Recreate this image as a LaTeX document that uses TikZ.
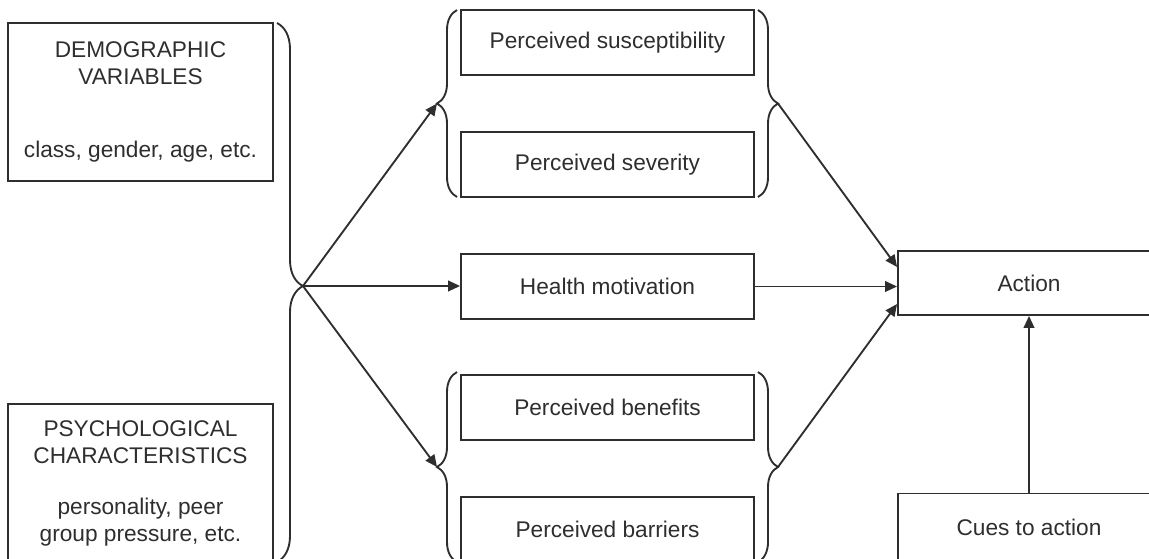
\documentclass[tikz,border=0pt]{standalone}
\usepackage{fontspec}
\setmainfont{Liberation Sans}
\usetikzlibrary{arrows.meta,decorations.pathreplacing,calc}
\begin{document}
\begin{tikzpicture}[x=0.75pt, y=-0.75pt, line width=1.4pt, color=black!82]
        \tikzstyle{box}=[draw, inner sep=0pt, align=center, font=\fontsize{17}{20.25}\selectfont]
        \tikzstyle{side}=[box, minimum width=198.75pt, minimum height=118.5pt]
        \tikzstyle{belief}=[box, minimum width=219.75pt, minimum height=48.75pt]
        \tikzstyle{outcome}=[box, minimum width=196.5pt, minimum height=48pt]
        \tikzstyle{curly}=[decorate, decoration={brace, amplitude=15pt}]
        \tikzstyle{arr}=[-{Triangle[length=9pt, width=8pt]}]
        \useasboundingbox (0,0) rectangle (1149,558);
        \clip (0,0) rectangle (1149,558);
        % Left boxes
        \node[side] (demo) at (140.5,102) {DEMOGRAPHIC\\VARIABLES\\[35pt]class, gender, age, etc.};
        \node[side] (psych) at (140.5,483) {PSYCHOLOGICAL\\CHARACTERISTICS\\[18pt]personality, peer\\group pressure, etc.};
        % Middle boxes
        \node[belief] (susc) at (607.5,42.5) {Perceived susceptibility};
        \node[belief] (sever) at (607.5,164.5) {Perceived severity};
        \node[belief] (motiv) at (607.5,286.5) {Health motivation};
        \node[belief] (benef) at (607.5,407.5) {Perceived benefits};
        \node[belief] (barr) at (607.5,529.5) {Perceived barriers};
        % Right boxes
        \node[outcome] (action) at (1029,283) {Action};
        \node[outcome, minimum height=51pt] (cues) at (1029,527.5) {Cues to action};
        % Braces
        \draw[curly, decoration={amplitude=19.5pt, aspect=0.488}] (277,23) -- (277,562);
        \draw[curly] (457,197) -- (457,10);
        \draw[curly] (758,10) -- (758,197);
        \draw[curly] (457,562) -- (457,372);
        \draw[curly] (758,372) -- (758,562);
        \coordinate (hub) at (303,286);
        \coordinate (tl) at (437,103.5);
        \coordinate (bl) at (437,467);
        \coordinate (tr) at (778,103.5);
        \coordinate (br) at (778,467);
        % Arrows
        \draw[arr] (hub) -- (tl);
        \draw[arr] (hub) -- (hub -| motiv.west);
        \draw[arr] (hub) -- (bl);
        \draw[arr] (tr) -- ($(action.west)+(0,-16)$);
        \draw[arr] (motiv.east) -- (motiv.east -| action.west);
        \draw[arr] (br) -- ($(action.west)+(0,21)$);
        \draw[arr] (cues) -- (action);
\end{tikzpicture}
\end{document}
